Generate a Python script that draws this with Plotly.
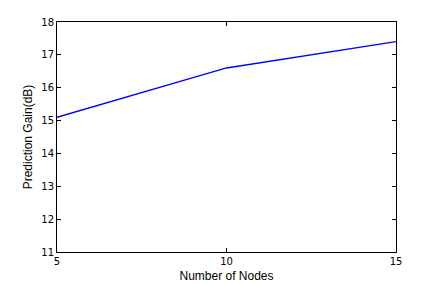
import plotly.graph_objects as go

nodes = [5, 10, 15]
gain = [15.1, 16.6, 17.4]
x_ticks = [5, 10, 15]
y_ticks = [11, 12, 13, 14, 15, 16, 17, 18]

fig = go.Figure()
fig.add_trace(go.Scatter(x=nodes, y=gain, mode="lines",
                         line=dict(color="#0000ff", width=1.3), hoverinfo="skip"))

axis_common = dict(showgrid=False, zeroline=False, showline=True, linecolor="black",
                   linewidth=1, mirror="ticks", ticks="inside", ticklen=4,
                   tickcolor="black", tickwidth=1, automargin=False,
                   tickfont=dict(family="DejaVu Sans", size=10, color="black"))

fig.update_layout(
    width=436, height=284,
    margin=dict(l=56.5, r=40, t=21.5, b=31.5),
    paper_bgcolor="white", plot_bgcolor="white",
    showlegend=False,
    xaxis=dict(range=[5, 15], tickvals=x_ticks, ticktext=[str(v) for v in x_ticks],
               title=dict(text="Number of Nodes", standoff=5,
                          font=dict(family="Liberation Sans", size=12, color="black")),
               **axis_common),
    yaxis=dict(range=[11, 18], tickvals=y_ticks, ticktext=[str(v) for v in y_ticks],
               title=dict(text="Prediction Gain(dB)", standoff=6,
                          font=dict(family="Liberation Sans", size=12, color="black")),
               **axis_common),
)

fig.write_html("out.html", config={"displayModeBar": False},
               post_script="document.body.style.margin='0';")
